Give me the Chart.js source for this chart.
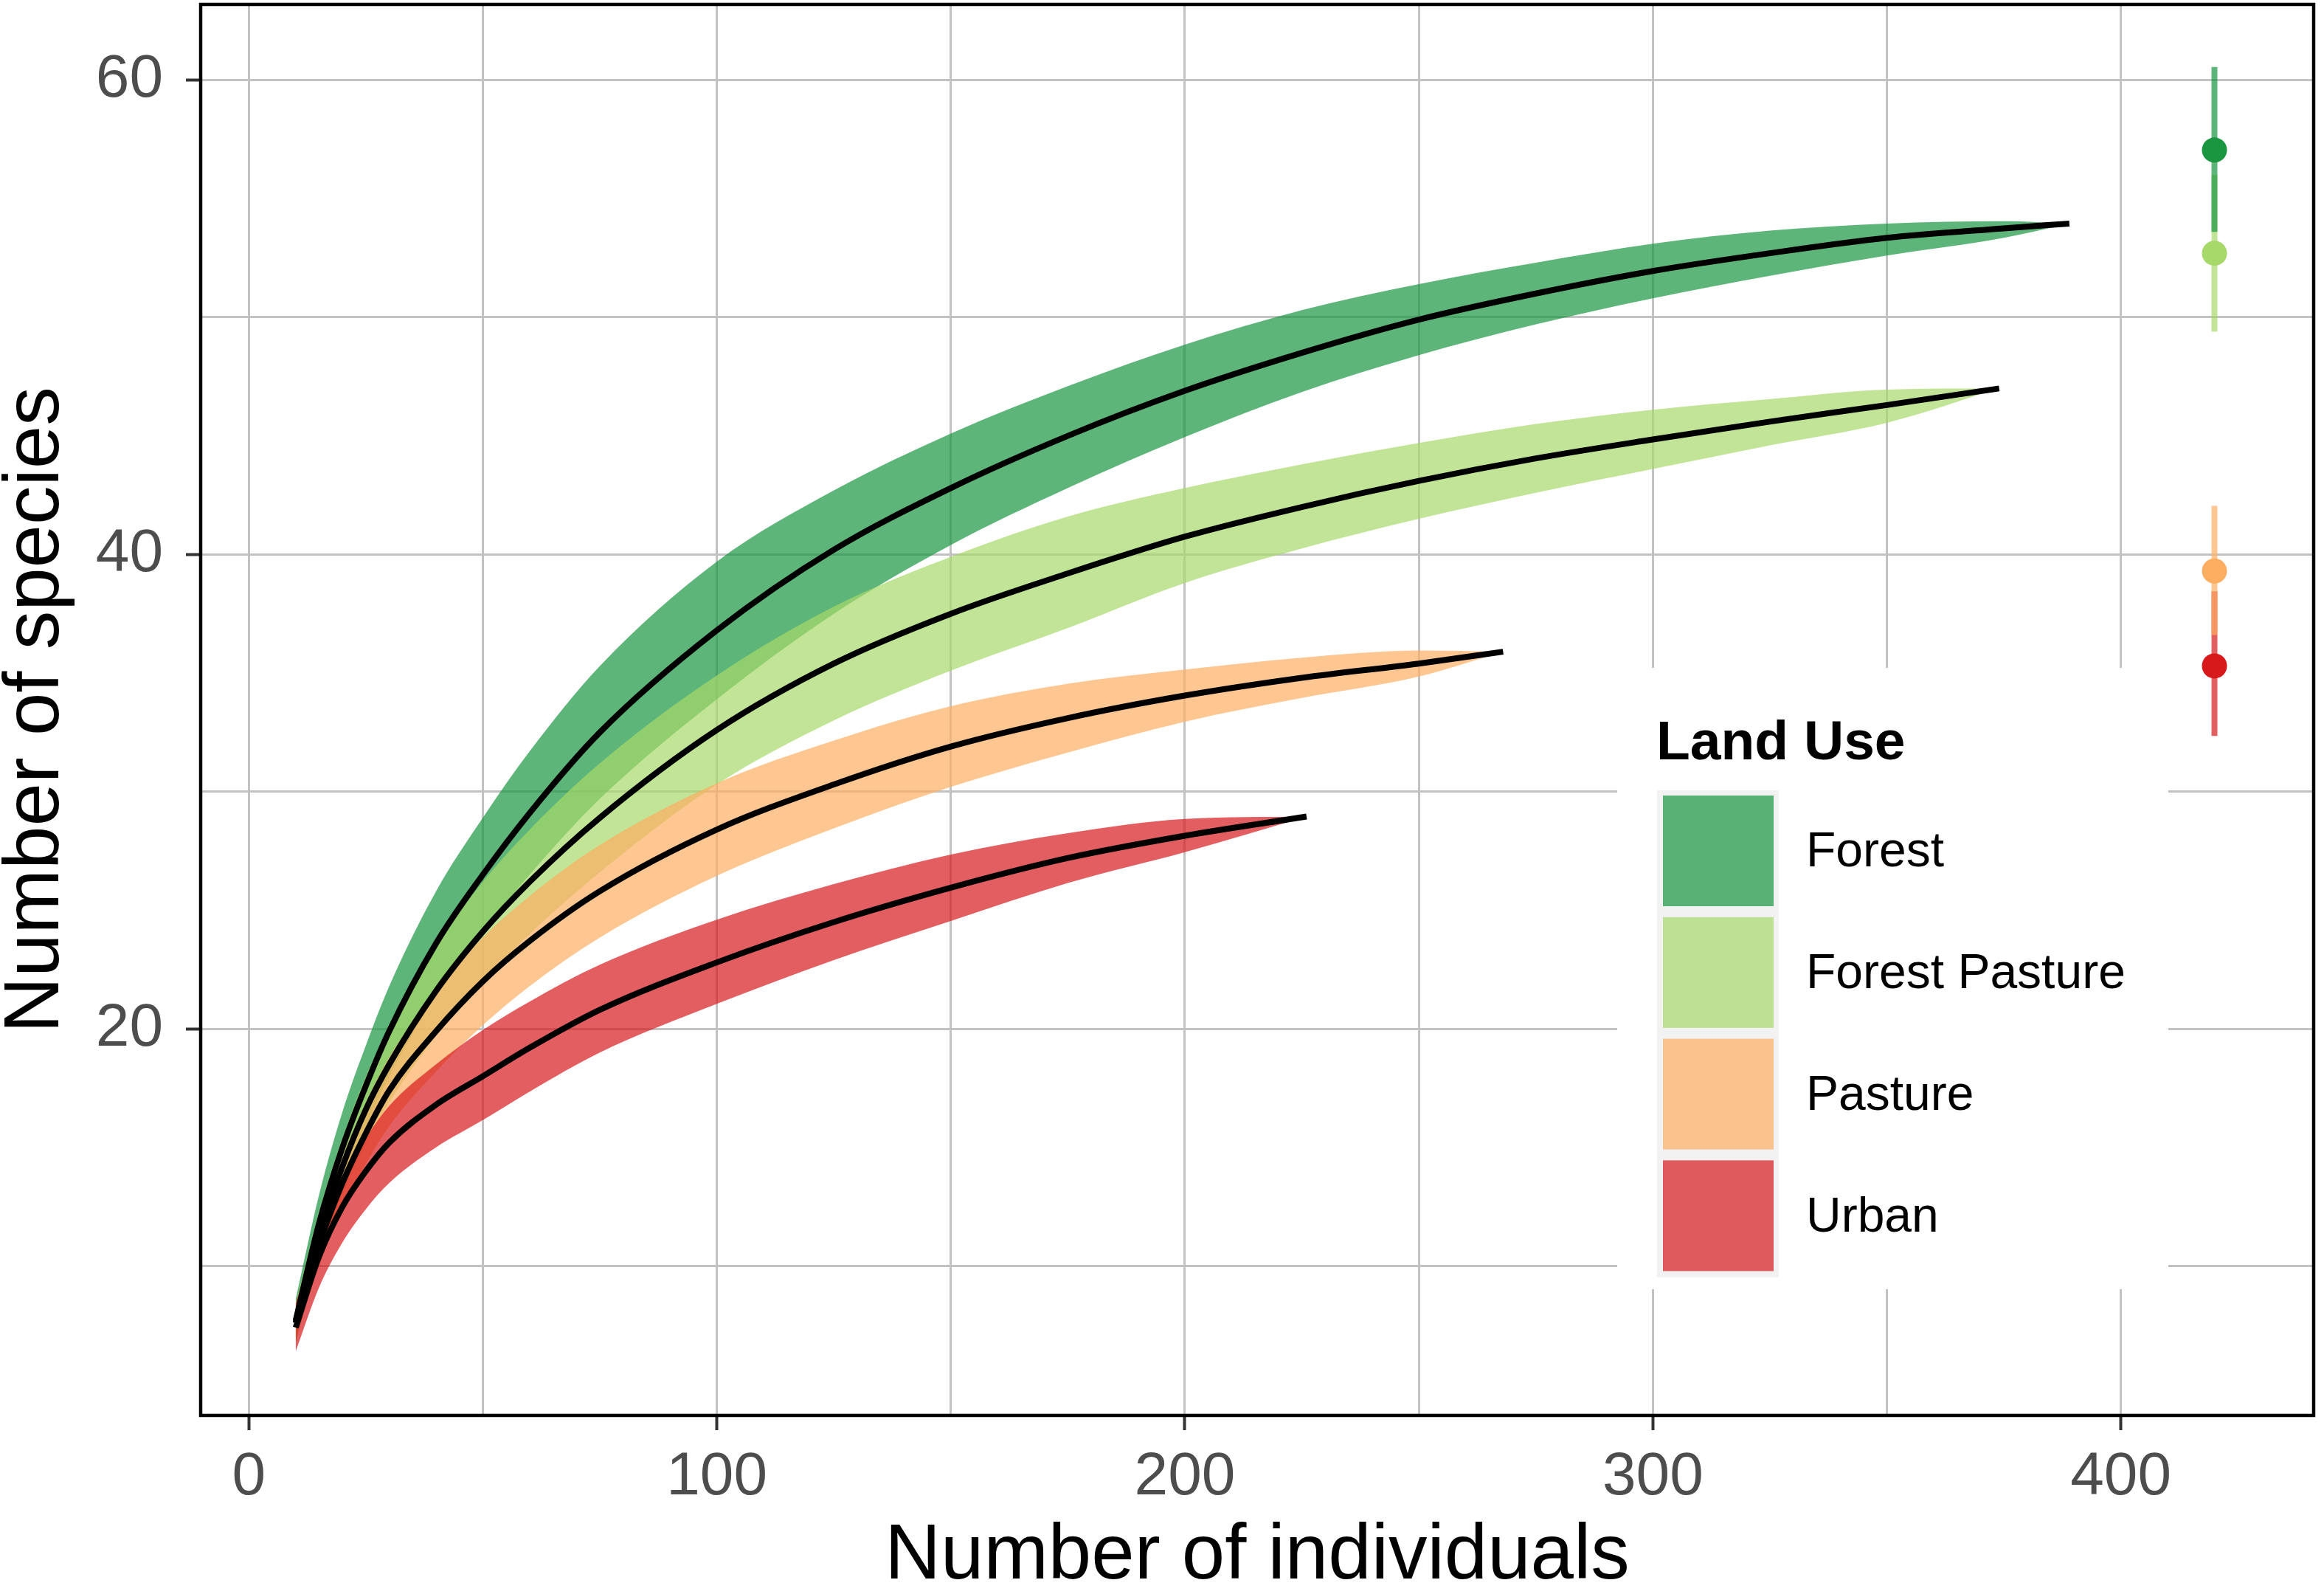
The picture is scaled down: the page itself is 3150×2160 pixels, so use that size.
<!DOCTYPE html>
<html>
<head>
<meta charset="utf-8">
<script src="https://cdn.jsdelivr.net/npm/chart.js@4.4.1/dist/chart.umd.min.js"></script>
<style>
  html, body { margin: 0; padding: 0; background: #fff; }
  #wrap { width: 3150px; height: 2160px; }
</style>
</head>
<body>
<div id="wrap"><canvas id="rareChart"></canvas></div>
<script>
// ---- rarefaction curves by land use ----
var landUse = ["Forest", "Forest Pasture", "Pasture", "Urban"];

var forestN    = [10, 15, 20, 25, 30, 40, 50, 60, 75, 100, 125, 150, 175, 200, 225, 250, 275, 300, 325, 350, 375, 389];
var forestMean = [7.7, 11.8, 15.0, 17.6, 19.9, 23.6, 26.5, 29.1, 32.5, 36.8, 40.2, 42.8, 45.0, 46.9, 48.5, 49.9, 51.0, 51.95, 52.7, 53.35, 53.75, 53.95];
var forestLow  = [6.8, 10.6, 13.5, 15.9, 18.0, 21.4, 24.1, 26.5, 29.7, 33.9, 37.5, 40.4, 42.8, 44.95, 46.85, 48.4, 49.7, 50.8, 51.75, 52.6, 53.35, 53.95];
var forestHigh = [8.6, 13.0, 16.5, 19.3, 21.8, 25.8, 28.9, 31.7, 35.3, 39.7, 42.7, 45.1, 47.1, 48.85, 50.3, 51.4, 52.3, 53.1, 53.65, 53.95, 54.05, 53.95];

var fpN    = [10, 15, 20, 25, 30, 40, 50, 60, 75, 100, 125, 150, 175, 200, 225, 250, 275, 300, 325, 350, 374];
var fpMean = [7.6, 11.3, 14.2, 16.6, 18.5, 21.6, 24.1, 26.2, 28.9, 32.6, 35.4, 37.5, 39.2, 40.75, 42.0, 43.1, 44.05, 44.85, 45.6, 46.3, 47.0];
var fpLow  = [6.8, 10.3, 13.0, 15.2, 16.9, 19.7, 22.0, 24.0, 26.6, 30.3, 33.0, 35.1, 36.9, 38.8, 40.25, 41.5, 42.6, 43.6, 44.6, 45.55, 47.0];
var fpHigh = [8.4, 12.3, 15.4, 18.0, 20.1, 23.5, 26.2, 28.4, 31.2, 34.9, 37.8, 39.9, 41.6, 42.8, 43.8, 44.7, 45.5, 46.1, 46.55, 46.95, 47.0];

var pastureN    = [10, 15, 20, 25, 30, 40, 50, 60, 75, 100, 125, 150, 175, 200, 225, 250, 268];
var pastureMean = [7.6, 10.9, 13.5, 15.6, 17.4, 19.9, 22.0, 23.7, 25.8, 28.4, 30.3, 31.9, 33.1, 34.05, 34.8, 35.4, 35.9];
var pastureLow  = [6.9, 10.0, 12.4, 14.3, 15.9, 18.2, 20.15, 21.8, 23.85, 26.45, 28.45, 30.2, 31.65, 32.95, 33.95, 34.85, 35.9];
var pastureHigh = [8.3, 11.8, 14.6, 16.9, 18.8, 21.6, 23.85, 25.6, 27.75, 30.35, 32.15, 33.6, 34.55, 35.15, 35.65, 35.95, 35.9];

var urbanN    = [10, 15, 20, 25, 30, 40, 50, 60, 75, 100, 125, 150, 175, 200, 226];
var urbanMean = [7.4, 10.4, 12.5, 14.0, 15.2, 16.8, 18.0, 19.2, 20.8, 22.8, 24.5, 25.95, 27.2, 28.14, 28.95];
var urbanLow  = [6.4, 9.1, 11.0, 12.4, 13.5, 15.0, 16.15, 17.35, 19.0, 21.05, 22.9, 24.55, 26.15, 27.45, 28.95];
var urbanHigh = [8.4, 11.7, 13.8, 15.4, 16.75, 18.5, 19.95, 21.15, 22.7, 24.6, 26.1, 27.35, 28.25, 28.85, 28.95];

// extrapolated richness (point + interval) drawn at the right edge
var estX    = 420;
var estMean = [57.05, 52.7, 39.3, 35.3];
var estLow  = [53.6, 49.4, 36.6, 32.35];
var estHigh = [60.55, 56.0, 42.05, 38.45];

// grid positions and the labelled ones
var xGridVals   = [0, 50, 100, 150, 200, 250, 300, 350, 400];
var yGridVals   = [10, 20, 30, 40, 50, 60];
var xTickLabels = [0, 100, 200, 300, 400];
var yTickLabels = [20, 40, 60];

var solidCol  = ["#1A9641", "#A6D96A", "#FDAE61", "#D7191C"];
var ribbonCol = ["rgba(26,150,65,0.7)", "rgba(166,217,106,0.7)", "rgba(253,174,97,0.7)", "rgba(215,25,28,0.7)"];

var fontFam = '"Liberation Sans", Arial, sans-serif';

function pts(xs, ys) {
  return xs.map(function (x, i) { return { x: x, y: ys[i] }; });
}

var groups = [
  { n: forestN,  mean: forestMean,  low: forestLow,  high: forestHigh },
  { n: fpN,      mean: fpMean,      low: fpLow,      high: fpHigh },
  { n: pastureN, mean: pastureMean, low: pastureLow, high: pastureHigh },
  { n: urbanN,   mean: urbanMean,   low: urbanLow,   high: urbanHigh }
];

var datasets = [];
groups.forEach(function (g, i) {
  // lower edge (invisible) then upper edge filled down to it
  datasets.push({
    data: pts(g.n, g.low), borderWidth: 0, pointRadius: 0, fill: false,
    cubicInterpolationMode: "monotone", order: 100 - i
  });
  datasets.push({
    data: pts(g.n, g.high), borderWidth: 0, pointRadius: 0, fill: "-1",
    backgroundColor: ribbonCol[i], cubicInterpolationMode: "monotone", order: 100 - i
  });
});
groups.forEach(function (g) {
  datasets.push({
    data: pts(g.n, g.mean), borderColor: "#000", borderWidth: 8, pointRadius: 0,
    fill: false, cubicInterpolationMode: "monotone", order: 50
  });
});
landUse.forEach(function (name, i) {
  datasets.push({
    data: [{ x: estX, y: estLow[i] }, { x: estX, y: estHigh[i] }],
    borderColor: ribbonCol[i], borderWidth: 8, pointRadius: 0, fill: false, order: 20
  });
});
landUse.forEach(function (name, i) {
  datasets.push({
    data: [{ x: estX, y: estMean[i] }], showLine: false,
    pointRadius: 17, pointBackgroundColor: solidCol[i], pointBorderWidth: 0, order: 10
  });
});

// white legend panel + black frame round the plot
var extras = {
  id: "extras",
  afterDatasetsDraw: function (chart) {
    var ctx = chart.ctx;
    ctx.save();
    ctx.fillStyle = "#FFFFFF";
    ctx.fillRect(2192, 905, 747, 842);
    ctx.fillStyle = "#000";
    ctx.font = "bold 75px " + fontFam;
    ctx.textBaseline = "alphabetic";
    ctx.fillText("Land Use", 2245, 1029);
    ctx.fillStyle = "#F2F2F2";
    ctx.fillRect(2246, 1071, 165, 660);
    ctx.font = "66px " + fontFam;
    ctx.textBaseline = "middle";
    landUse.forEach(function (name, i) {
      var y0 = 1078 + i * 164.8;
      ctx.fillStyle = ribbonCol[i];
      ctx.fillRect(2254, y0, 150, 150);
      ctx.fillStyle = "#000";
      ctx.fillText(name, 2448, y0 + 78);
    });
    ctx.restore();
  },
  afterDraw: function (chart) {
    var a = chart.chartArea, ctx = chart.ctx;
    ctx.save();
    ctx.strokeStyle = "#000";
    ctx.lineWidth = 4.5;
    ctx.strokeRect(a.left, a.top, a.right - a.left, a.bottom - a.top);
    ctx.restore();
  }
};

function tickCol(list) {
  return function (c) { return list.indexOf(c.tick && c.tick.value) >= 0 ? "#333333" : "rgba(0,0,0,0)"; };
}
function fixTicks(vals) {
  return function (s) { s.ticks = vals.map(function (v) { return { value: v }; }); };
}

new Chart(document.getElementById("rareChart"), {
  type: "line",
  data: { datasets: datasets },
  plugins: [extras],
  options: {
    responsive: true,
    maintainAspectRatio: false,
    devicePixelRatio: 1,
    animation: false,
    layout: { autoPadding: false, padding: { left: 0, top: 6, right: 14, bottom: 0 } },
    plugins: { legend: { display: false }, tooltip: { enabled: false } },
    scales: {
      x: {
        type: "linear", min: -10.3, max: 441.2,
        afterBuildTicks: fixTicks(xGridVals),
        afterFit: function (s) { s.height = 242; s.paddingLeft = 0; s.paddingRight = 0; },
        border: { display: false },
        grid: { color: "#C2C2C2", lineWidth: 3, tickLength: 20, tickWidth: 4, tickColor: tickCol(xTickLabels) },
        ticks: {
          autoSkip: false, maxRotation: 0, padding: 15,
          color: "#4D4D4D", font: { family: fontFam, size: 82 },
          callback: function (v) { return xTickLabels.indexOf(v) >= 0 ? String(v) : ""; }
        },
        title: {
          display: true, text: "Number of individuals", color: "#000",
          font: { family: fontFam, size: 105, lineHeight: 0.95 }, padding: 0
        }
      },
      y: {
        type: "linear", min: 3.7, max: 63.19,
        afterBuildTicks: fixTicks(yGridVals),
        afterFit: function (s) { s.width = 272; s.paddingTop = 0; s.paddingBottom = 0; },
        border: { display: false },
        grid: { color: "#C2C2C2", lineWidth: 3, tickLength: 20, tickWidth: 4, tickColor: tickCol(yTickLabels) },
        ticks: {
          autoSkip: false, padding: 31,
          color: "#4D4D4D", font: { family: fontFam, size: 82 },
          callback: function (v) { return yTickLabels.indexOf(v) >= 0 ? String(v) : ""; }
        },
        title: {
          display: true, text: "Number of species", color: "#000",
          font: { family: fontFam, size: 105, lineHeight: 0.95 }, padding: 0
        }
      }
    }
  }
});
</script>
</body>
</html>
